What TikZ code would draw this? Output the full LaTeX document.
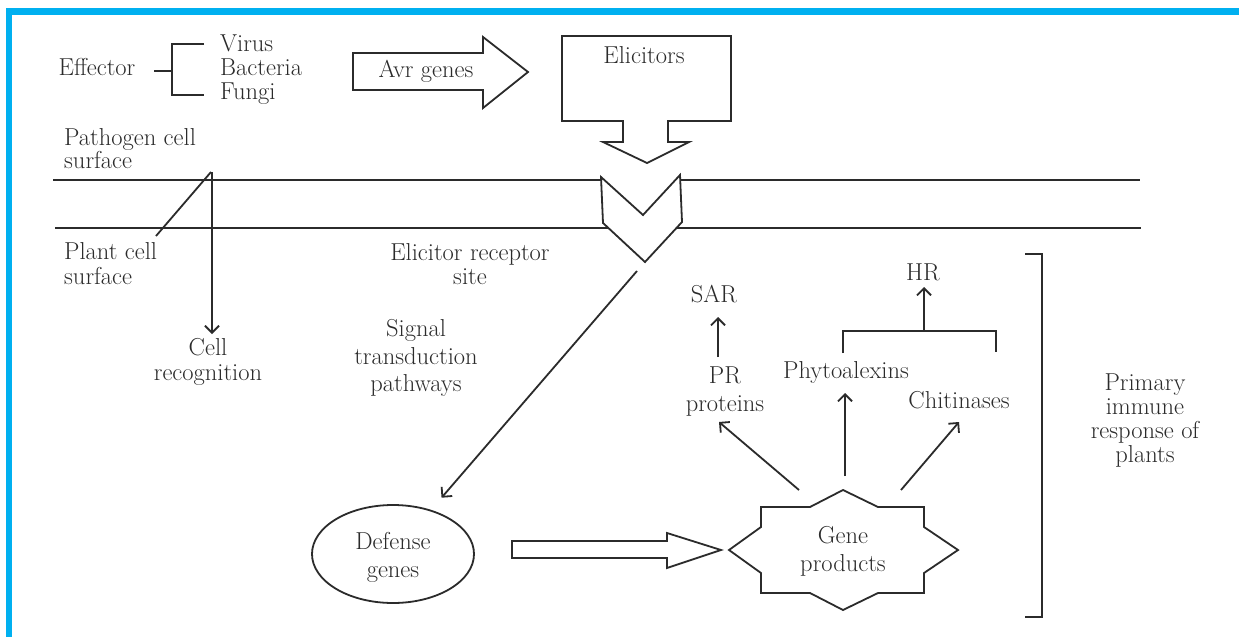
\documentclass[tikz,border=0pt]{standalone}
\usetikzlibrary{arrows.meta,shapes.geometric}
\definecolor{ink}{HTML}{2B2B2B}
\definecolor{framecol}{HTML}{00B0F0}
\tikzset{
  ln/.style={draw=ink, line width=1.8pt, line join=miter},
  arr/.style={draw=ink, line width=1.8pt, -{Straight Barb[length=7pt,width=14pt,line width=1.8pt]}},
  lbl/.style={text=ink, font=\fontsize{24.5}{26}\selectfont, inner sep=0pt, align=center},
  one/.style={lbl, text height=17pt, text depth=5.5pt},
  hollow/.style={ln, fill=white},
}
\begin{document}
\begin{tikzpicture}[x=1pt,y=-1pt]
\useasboundingbox (0,0) rectangle (1239,637);
\fill[white] (0,0) rectangle (1239,637);
\fill[framecol] (6,8) rectangle (1239,15);
\fill[framecol] (6,8) rectangle (12,637);

% effector group
\node[one] (eff) at (97,70) {Effector};
\node[one, anchor=west] (virus) at (220,46) {Virus};
\node[one, anchor=west] (bact) at (220,70) {Bacteria};
\node[one, anchor=west] (fungi) at (220,94) {Fungi};
\coordinate (brT) at (172,44);
\coordinate (brB) at (172,95);
\draw[ln] (154,71) -- (172,71);
\draw[ln] (204,44) -- (brT) -- (brB) -- (204,95);

% Avr genes arrow
\draw[hollow] (353,53) -- (483,53) -- (483,37) -- (528,72) -- (483,108) -- (483,90) -- (353,90) -- cycle;
\node[one] (avr) at (426,72) {Avr genes};

% Elicitors
\draw[hollow] (562,36) -- (731,36) -- (731,121) -- (668,121) -- (668,142) -- (689,142) -- (647,163)
  -- (603,142) -- (623,142) -- (623,121) -- (562,121) -- cycle;
\node[one] (elic) at (644,58) {Elicitors};

% membranes
\draw[ln] (53,180) -- (602,180);
\draw[ln] (680,180) -- (1140,180);
\draw[ln] (55,228) -- (1141,228);
\draw[hollow] (601,177) -- (643,215) -- (680,175) -- (682,222) -- (645,262) -- (603,223) -- cycle;

\node[lbl, anchor=west, align=left, font=\fontsize{24.5}{23}\selectfont] (pcs) at (64,149) {Pathogen cell\\surface};
\node[lbl, anchor=west, align=left, font=\fontsize{24.5}{25}\selectfont] (plcs) at (64,264) {Plant cell\\surface};
\node[lbl, font=\fontsize{24.5}{24}\selectfont] (ers) at (470,264) {Elicitor receptor\\site};

% cell recognition
\coordinate (cross) at (211,172);
\draw[ln] (cross) -- (156,236);
\node[lbl, font=\fontsize{24.5}{25}\selectfont] (cellrec) at (208,362) {Cell\\recognition};
\coordinate (crtip) at (212,334);
\draw[arr] (212,172) -- (crtip);

% signal transduction
\node[lbl, font=\fontsize{24.5}{27.5}\selectfont] (sig) at (416,358) {Signal\\transduction\\pathways};
\coordinate (rtail) at (637,271);
\node[ellipse, draw=ink, line width=1.8pt, minimum width=162pt, minimum height=98pt, inner sep=0pt] (def) at (393,554) {};
\node[lbl, font=\fontsize{24.5}{28}\selectfont] (deft) at (393,557) {Defense\\genes};
\draw[arr, shorten >=16pt] (rtail) -- (def);

% hollow arrow to gene products
\draw[hollow] (512,541) -- (667,541) -- (667,533) -- (721,550) -- (667,568) -- (667,558) -- (512,558) -- cycle;

% gene products star
\draw[hollow] (761,507) -- (810,507) -- (843,490) -- (878,507) -- (924,507) -- (924,527) -- (958,550)
  -- (924,573) -- (924,593) -- (878,593) -- (843,610) -- (810,593) -- (761,593) -- (761,573)
  -- (729,550) -- (761,527) -- cycle;
\node[lbl, font=\fontsize{24.5}{28}\selectfont] (gp) at (843,551) {Gene\\products};

% products
\node[lbl, font=\fontsize{24.5}{28}\selectfont] (pr) at (725,392) {PR\\proteins};
\node[one] (sar) at (714,297) {SAR};
\node[one] (phyto) at (846,373) {Phytoalexins};
\node[one] (chit) at (959,403) {Chitinases};
\node[one] (hr) at (923,275) {HR};

\coordinate (gpL) at (799,490);
\coordinate (gpM) at (845,476);
\coordinate (gpR) at (901,490);
\coordinate (prT) at (719,422);
\coordinate (phT) at (845,393);
\coordinate (chT) at (959,422);
\draw[arr] (gpL) -- (prT);
\draw[arr] (gpM) -- (phT);
\draw[arr] (gpR) -- (chT);

\coordinate (sarB) at (718,357);
\coordinate (sarT) at (718,317);
\draw[arr] (sarB) -- (sarT);

\coordinate (hrM) at (924,331);
\draw[ln] (843,353) -- (843,331) -- (996,331) -- (996,352);
\coordinate (hrT) at (924,287);
\draw[arr] (hrM) -- (hrT);

% big bracket
\draw[ln] (1025,254) -- (1042,254) -- (1042,617) -- (1025,617);
\node[lbl, font=\fontsize{24.5}{24}\selectfont] (pir) at (1145,421) {Primary\\immune\\response of\\plants};
\end{tikzpicture}
\end{document}
